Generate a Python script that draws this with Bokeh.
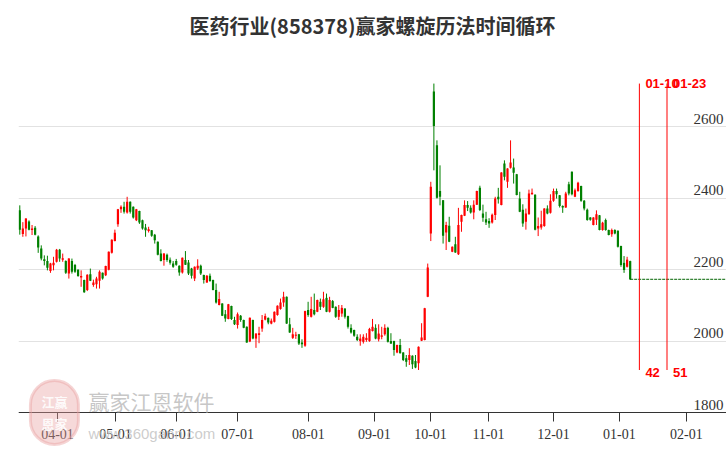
from bokeh.plotting import figure
from bokeh.models import ColumnDataSource, Range1d, FixedTicker, Label
from bokeh.embed import file_html
from bokeh.resources import INLINE
from bokeh.core.properties import value

title_text = "医药行业(858378)赢家螺旋历法时间循环"

opens = [2366, 2300, 2315, 2335, 2311, 2317, 2293, 2259, 2229, 2224,
         2196, 2212, 2222, 2256, 2228, 2224, 2189, 2224, 2213, 2200,
         2178, 2171, 2143, 2187, 2157, 2159, 2169, 2191, 2184, 2200,
         2247, 2280, 2327, 2369, 2376, 2360, 2390, 2376, 2338, 2364,
         2338, 2318, 2308, 2310, 2298, 2278, 2245, 2227, 2242, 2228,
         2217, 2224, 2211, 2192, 2227, 2220, 2203, 2175, 2203, 2211,
         2185, 2164, 2183, 2171, 2143, 2101, 2105, 2075, 2062, 2098,
         2059, 2045, 2071, 2059, 2040, 1999, 2059, 2007, 2017, 2035,
         2060, 2065, 2049, 2054, 2073, 2090, 2108, 2124, 2047, 2009,
         2015, 2019, 1996, 1987, 2087, 2068, 2087, 2082, 2110, 2096,
         2121, 2082, 2112, 2096, 2068, 2077, 2091, 2070, 2037, 2031,
         2012, 2000, 1998, 2003, 2000, 2028, 2037, 2005, 2012, 2019,
         2037, 2000, 2000, 1968, 1989, 1968, 1952, 1947, 1959, 1944,
         1938, 2001, 2003, 2124, 2301, 2699, 2548, 2420, 2394, 2304,
         2323, 2250, 2271, 2243, 2334, 2351, 2381, 2373, 2360, 2382,
         2429, 2357, 2341, 2336, 2332, 2353, 2404, 2381, 2497, 2446,
         2485, 2486, 2467, 2399, 2368, 2334, 2355, 2411, 2410, 2315,
         2318, 2322, 2371, 2359, 2393, 2420, 2408, 2378, 2374, 2439,
         2474, 2404, 2420, 2434, 2393, 2368, 2346, 2325, 2340, 2352,
         2311, 2339, 2311, 2299, 2311, 2309, 2266, 2219, 2208, 2224]

highs = [2380, 2333, 2344, 2338, 2325, 2322, 2296, 2268, 2240, 2239,
         2219, 2236, 2258, 2258, 2245, 2226, 2232, 2231, 2216, 2201,
         2198, 2172, 2187, 2203, 2172, 2180, 2198, 2192, 2211, 2251,
         2285, 2312, 2370, 2380, 2390, 2404, 2391, 2377, 2370, 2365,
         2340, 2328, 2320, 2311, 2300, 2279, 2257, 2246, 2245, 2234,
         2224, 2230, 2212, 2234, 2252, 2227, 2205, 2209, 2229, 2214,
         2186, 2185, 2189, 2172, 2161, 2138, 2106, 2087, 2104, 2099,
         2068, 2080, 2073, 2060, 2041, 2066, 2060, 2022, 2040, 2073,
         2077, 2066, 2063, 2083, 2100, 2119, 2138, 2125, 2065, 2037,
         2026, 2020, 2005, 2085, 2110, 2124, 2133, 2116, 2119, 2138,
         2133, 2124, 2115, 2097, 2101, 2101, 2092, 2071, 2047, 2032,
         2019, 2019, 2019, 2022, 2037, 2062, 2047, 2047, 2040, 2047,
         2040, 2022, 2001, 1990, 2006, 1969, 1961, 1980, 1960, 1961,
         1985, 2050, 2093, 2217, 2446, 2721, 2562, 2492, 2395, 2334,
         2348, 2265, 2292, 2373, 2354, 2394, 2392, 2380, 2394, 2421,
         2435, 2382, 2362, 2344, 2357, 2404, 2429, 2473, 2506, 2484,
         2562, 2511, 2468, 2418, 2383, 2371, 2424, 2427, 2411, 2346,
         2365, 2372, 2380, 2411, 2427, 2427, 2409, 2380, 2418, 2446,
         2475, 2427, 2446, 2435, 2395, 2371, 2347, 2347, 2366, 2353,
         2334, 2343, 2312, 2315, 2313, 2310, 2267, 2238, 2236, 2225]

lows = [2298, 2292, 2293, 2310, 2297, 2296, 2247, 2226, 2212, 2198,
        2191, 2198, 2220, 2222, 2222, 2188, 2175, 2189, 2191, 2180,
        2152, 2135, 2140, 2168, 2152, 2147, 2147, 2172, 2182, 2198,
        2245, 2279, 2320, 2359, 2357, 2357, 2357, 2343, 2336, 2328,
        2312, 2292, 2304, 2292, 2273, 2240, 2223, 2211, 2222, 2214,
        2205, 2211, 2183, 2189, 2213, 2185, 2175, 2168, 2199, 2185,
        2161, 2163, 2166, 2142, 2105, 2100, 2070, 2054, 2061, 2059,
        2045, 2035, 2054, 2036, 1995, 1997, 2005, 1981, 1994, 2026,
        2058, 2047, 2047, 2052, 2071, 2088, 2096, 2048, 2023, 2006,
        2006, 1989, 1981, 1984, 2068, 2066, 2072, 2081, 2087, 2093,
        2081, 2080, 2092, 2065, 2059, 2068, 2063, 2035, 2021, 2012,
        2000, 1987, 1993, 1998, 1998, 2027, 2005, 1999, 2005, 2015,
        1996, 1992, 1959, 1966, 1965, 1944, 1928, 1933, 1922, 1924,
        1919, 2000, 2002, 2123, 2280, 2478, 2399, 2380, 2273, 2255,
        2277, 2249, 2247, 2241, 2306, 2350, 2364, 2357, 2341, 2381,
        2364, 2334, 2325, 2317, 2329, 2339, 2385, 2380, 2450, 2429,
        2483, 2441, 2408, 2361, 2320, 2312, 2354, 2410, 2310, 2294,
        2312, 2320, 2355, 2357, 2390, 2399, 2374, 2359, 2373, 2408,
        2408, 2403, 2418, 2390, 2366, 2337, 2337, 2324, 2325, 2310,
        2309, 2309, 2296, 2292, 2299, 2262, 2208, 2191, 2206, 2171]

closes = [2312, 2315, 2343, 2312, 2315, 2298, 2262, 2231, 2224, 2205,
          2217, 2219, 2256, 2231, 2232, 2191, 2231, 2194, 2194, 2182,
          2182, 2137, 2186, 2169, 2164, 2175, 2194, 2175, 2210, 2250,
          2284, 2303, 2369, 2376, 2362, 2390, 2362, 2346, 2369, 2332,
          2315, 2310, 2313, 2295, 2282, 2242, 2224, 2245, 2227, 2219,
          2208, 2214, 2192, 2233, 2214, 2189, 2183, 2208, 2211, 2189,
          2171, 2183, 2168, 2143, 2108, 2118, 2071, 2063, 2103, 2062,
          2047, 2075, 2059, 2037, 1996, 2065, 2007, 2021, 2022, 2059,
          2070, 2052, 2057, 2082, 2099, 2108, 2124, 2049, 2024, 2019,
          2018, 1993, 1991, 2084, 2073, 2090, 2075, 2115, 2096, 2117,
          2082, 2115, 2093, 2068, 2087, 2093, 2068, 2040, 2024, 2015,
          2003, 2007, 2012, 2009, 2034, 2040, 2007, 2021, 2016, 2037,
          1998, 1993, 1975, 1989, 1966, 1947, 1942, 1961, 1935, 1926,
          1984, 2010, 2092, 2206, 2432, 2602, 2401, 2404, 2295, 2325,
          2278, 2264, 2248, 2325, 2353, 2381, 2373, 2360, 2382, 2420,
          2367, 2345, 2332, 2329, 2354, 2399, 2397, 2472, 2460, 2483,
          2500, 2471, 2409, 2362, 2329, 2357, 2413, 2415, 2312, 2322,
          2327, 2371, 2357, 2393, 2420, 2411, 2378, 2374, 2413, 2413,
          2411, 2422, 2443, 2393, 2371, 2339, 2340, 2346, 2355, 2311,
          2331, 2311, 2297, 2311, 2301, 2264, 2213, 2199, 2228, 2173]

tick_pos = [12.3, 31.2, 51.1, 71.0, 94.1, 115.6, 133.9, 152.8, 174.0, 195.5, 217.3]
tick_labels = ["04-01", "05-01", "06-01", "07-01", "08-01", "09-01",
               "10-01", "11-01", "12-01", "01-01", "02-01"]
y_ticks = [1800, 2000, 2200, 2400, 2600]
y_tick_labels = ["1800", "2000", "2200", "2400", "2600"]

cycle_idx = [202, 211]
cycle_dates = ["01-10", "01-23"]
cycle_counts = ["42", "51"]

UP = "#ff0000"
DOWN = "#008000"

n = len(closes)
xs = list(range(n))
src = ColumnDataSource(dict(
    x=xs,
    high=highs,
    low=lows,
    top=[max(o, c) for o, c in zip(opens, closes)],
    bottom=[min(o, c) for o, c in zip(opens, closes)],
    color=[UP if c >= o else DOWN for o, c in zip(opens, closes)],
))

X0, X1 = -0.42, 230.4
Y_AXIS = y_ticks[0]
p = figure(width=726, height=450, output_backend="svg", toolbar_location=None,
           x_range=Range1d(X0, X1), y_range=Range1d(1693.6, 2830.4),
           y_axis_location=None, title=title_text,
           min_border_left=18, min_border_right=0, min_border_top=44, min_border_bottom=0)
p.outline_line_color = None
p.background_fill_color = "white"
p.border_fill_color = "white"

p.title.text_font = "Noto Sans CJK SC"
p.title.text_font_size = "20px"
p.title.text_font_style = "bold"
p.title.text_color = "#333333"
p.title.align = "center"

p.xgrid.visible = False
p.ygrid.ticker = FixedTicker(ticks=y_ticks)
p.ygrid.grid_line_color = "#e2e2e2"
p.ygrid.grid_line_width = 1

ax = p.xaxis[0]
ax.fixed_location = Y_AXIS
ax.ticker = FixedTicker(ticks=tick_pos)
ax.major_label_overrides = {t: l for t, l in zip(tick_pos, tick_labels)}
ax.axis_line_color = "#333333"
ax.major_tick_line_color = "#333333"
ax.major_tick_in = 0
ax.major_tick_out = 9
ax.minor_tick_line_color = None
ax.major_label_standoff = 7
ax.major_label_text_font = "Liberation Sans Narrow"
ax.major_label_text_font_size = "14px"
ax.major_label_text_color = "#333333"

# watermark
wm_x = 22.4
p.add_layout(Label(x=11.3, y=1800, text="江赢\n恩家", text_align="center", text_baseline="middle",
                   text_font="Noto Sans CJK SC", text_font_size="13px", text_font_style="bold",
                   text_color="#ffffff", text_alpha=0.9,
                   background_fill_color="#e8a0a0", background_fill_alpha=0.4,
                   border_line_color="#e8a0a0", border_line_alpha=0.45, border_line_width=3,
                   border_radius=27, padding=11))
p.add_layout(Label(x=wm_x, y=1831, text="赢家江恩软件", text_align="left", text_baseline="middle",
                   text_font="Noto Sans CJK SC", text_font_size="21px",
                   text_color="#b8b8b8", text_alpha=0.8))
p.add_layout(Label(x=wm_x, y=1741, text="www.360gann.com", text_align="left", text_baseline="middle",
                   text_font="Liberation Sans", text_font_size="15px",
                   text_color="#c0c0c0", text_alpha=0.8))

# candles
p.segment(x0="x", y0="low", x1="x", y1="high", line_color="color", line_width=1, source=src)
p.vbar(x="x", width=0.72, top="top", bottom="bottom", fill_color="color", line_color=None, source=src)

# last close dashed line
last_x = xs[-1]
last_c = closes[-1]
p.segment(x0=[last_x], y0=[last_c], x1=[X1], y1=[last_c], line_color="#006400",
          line_width=1, line_dash="3 1")

# cycle lines
hi = max(highs)
lo = min(lows)
p.segment(x0=cycle_idx, y0=[lo] * 2, x1=cycle_idx, y1=[hi] * 2,
          line_color=["#ff0000", "#ff0000"], line_alpha=[1.0, 0.5], line_width=[1, 2])
p.text(x=cycle_idx, y=[hi] * 2, text=cycle_dates, text_color="#ff0000",
       text_font=value("Liberation Sans"), text_font_size="13px", text_font_style="bold",
       text_baseline="middle", text_align="left", x_offset=6)
p.text(x=cycle_idx, y=[lo] * 2, text=cycle_counts, text_color="#ff0000",
       text_font=value("Liberation Sans"), text_font_size="13px", text_font_style="bold",
       text_baseline="middle", text_align="left", x_offset=6, y_offset=2)

# y labels inside plot on right
p.text(x=[229.4] * len(y_ticks), y=y_ticks, text=y_tick_labels, text_color="#333333",
       text_font=value("Liberation Sans Narrow"), text_font_size="15px",
       text_align="right", text_baseline="bottom", y_offset=-3)

open("out.html", "w").write(file_html(p, INLINE))
